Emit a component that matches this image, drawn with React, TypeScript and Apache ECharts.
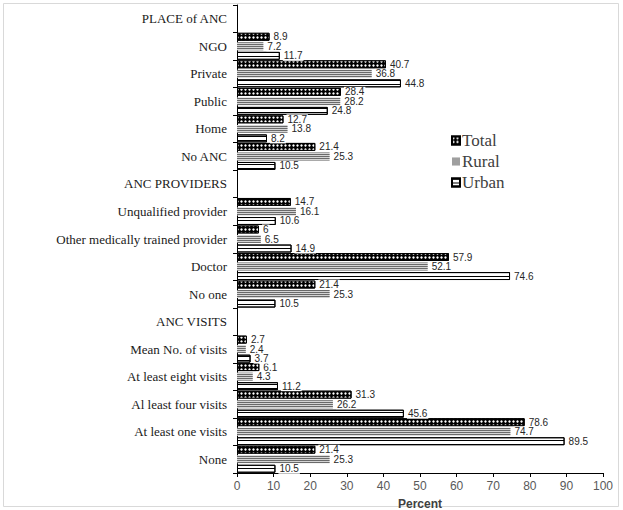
import React, { useEffect, useRef } from "react";
import * as echarts from "echarts";

const categories = [
  "PLACE of ANC",
  "NGO",
  "Private",
  "Public",
  "Home",
  "No ANC",
  "ANC PROVIDERS",
  "Unqualified provider",
  "Other medically trained provider",
  "Doctor",
  "No one",
  "ANC VISITS",
  "Mean No. of visits",
  "At least eight visits",
  "Al least four visits",
  "At least one visits",
  "None",
];

const totalValues = [null, 8.9, 40.7, 28.4, 12.7, 21.4, null, 14.7, 6, 57.9, 21.4, null, 2.7, 6.1, 31.3, 78.6, 21.4];
const ruralValues = [null, 7.2, 36.8, 28.2, 13.8, 25.3, null, 16.1, 6.5, 52.1, 25.3, null, 2.4, 4.3, 26.2, 74.7, 25.3];
const urbanValues = [null, 11.7, 44.8, 24.8, 8.2, 10.5, null, 10.6, 14.9, 74.6, 10.5, null, 3.7, 11.2, 45.6, 89.5, 10.5];

const seriesNames = ["Total", "Rural", "Urban"];

const serif = "'Liberation Serif', 'Times New Roman', serif";
const sans = "'Liberation Sans Narrow', 'Liberation Sans', Arial, sans-serif";

export default function App() {
  const ref = useRef<HTMLDivElement>(null);
  useEffect(() => {
    if (!ref.current) return;
    const chart = echarts.init(ref.current, undefined, { renderer: "svg" });
    const label = {
      show: true,
      position: "right" as const,
      distance: 3,
      fontFamily: sans,
      fontSize: 10,
      color: "#262626",
      backgroundColor: "#fff",
      padding: [0, 1, 0, 1],
      formatter: (p: any) => (p.value == null ? "" : String(p.value)),
    };
    chart.setOption({
      animation: false,
      backgroundColor: "#fff",
      graphic: [
        {
          type: "rect",
          shape: { x: 3.5, y: 3.5, width: 615, height: 503 },
          style: { fill: "none", stroke: "#d9d9d9", lineWidth: 1 },
          silent: true,
        },
      ],
      legend: {
        data: seriesNames,
        orient: "vertical",
        left: 446,
        top: 127,
        itemWidth: 8,
        itemHeight: 8,
        itemGap: 4,
        icon: "rect",
        textStyle: { fontFamily: serif, fontSize: 17, color: "#404040", padding: [0, 0, 0, -3] },
      },
      grid: {
        left: 237,
        right: 20,
        top: 5,
        bottom: 37,
        containLabel: false,
        outerBoundsMode: "none",
      },
      xAxis: {
        type: "value",
        min: 0,
        max: 100,
        interval: 10,
        splitLine: { show: false },
        axisLine: { show: true, lineStyle: { color: "#000", width: 1 } },
        axisTick: { show: true, length: 4, lineStyle: { color: "#000" } },
        axisLabel: { fontFamily: sans, fontSize: 12, color: "#595959", margin: 7 },
        name: "Percent",
        nameLocation: "middle",
        nameGap: 25,
        nameTextStyle: { fontFamily: "'Liberation Sans', Arial, sans-serif", fontSize: 12, fontWeight: "bold", color: "#404040" },
      },
      yAxis: {
        type: "category",
        inverse: true,
        data: categories,
        axisLine: { show: true, lineStyle: { color: "#000", width: 1 } },
        axisTick: { show: true, length: 4, alignWithLabel: false, lineStyle: { color: "#000" } },
        axisLabel: { fontFamily: serif, fontSize: 13, color: "#1a1a1a", margin: 10 },
      },
      series: [
        {
          name: "Total",
          type: "bar",
          data: totalValues,
          barCategoryGap: "2%",
          barGap: "20%",
          itemStyle: {
            color: "#000",
            borderColor: "#000",
            borderWidth: 1,
            decal: {
              symbol: "circle",
              symbolSize: 0.8,
              color: "#fff",
              dashArrayX: [3, 1],
              dashArrayY: [3, 1],
            },
          },
          label,
        },
        {
          name: "Rural",
          type: "bar",
          data: ruralValues,
          barCategoryGap: "2%",
          barGap: "20%",
          itemStyle: {
            color: "#d4d4d4",
            decal: {
              symbol: "rect",
              symbolSize: 1,
              color: "#6a6a6a",
              dashArrayX: [1, 0],
              dashArrayY: [1, 1],
            },
          },
          label,
        },
        {
          name: "Urban",
          type: "bar",
          data: urbanValues,
          barCategoryGap: "2%",
          barGap: "20%",
          itemStyle: {
            color: "#fff",
            borderColor: "#000",
            borderWidth: 1,
            decal: {
              symbol: "rect",
              symbolSize: 1,
              color: "#000",
              dashArrayX: [1, 0],
              dashArrayY: [1, 2.5],
            },
          },
          label,
        },
      ],
    });
    return () => chart.dispose();
  }, []);
  return (
    <div
      ref={ref}
      style={{ position: "fixed", left: 0, top: 0, width: 623, height: 510 }}
    />
  );
}
